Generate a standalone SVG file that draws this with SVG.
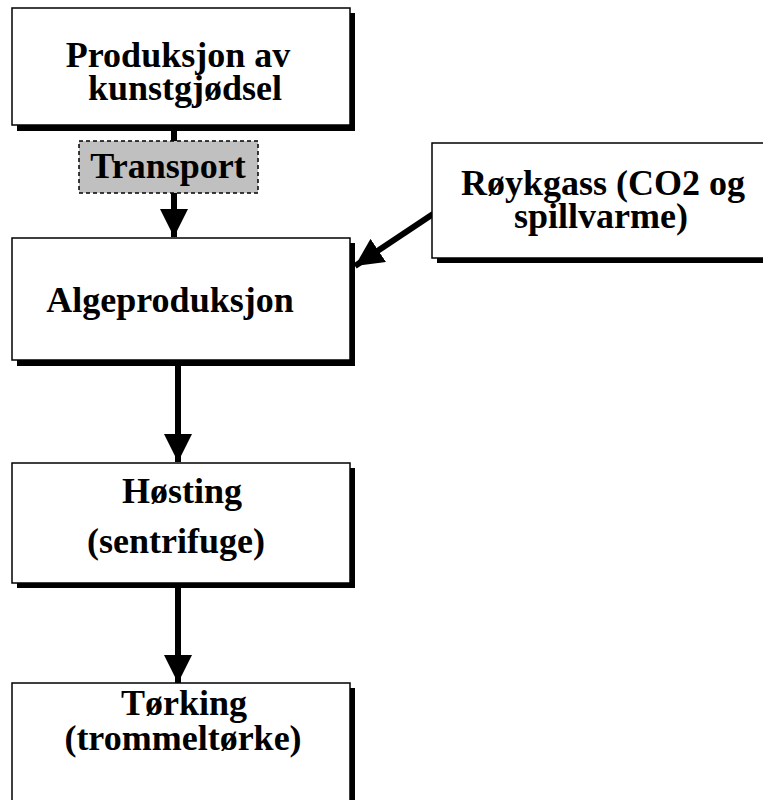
<svg xmlns="http://www.w3.org/2000/svg" width="763" height="800" viewBox="0 0 763 800">
<style>
  .box { fill: #ffffff; stroke: #000000; stroke-width: 1.5; }
  .shadow { fill: #000000; }
  .lbl { font-family: "Liberation Serif", "Times New Roman", serif; font-weight: bold; font-size: 36px; fill: #000000; text-anchor: middle; }
  .conn { stroke: #000000; stroke-width: 6; fill: none; }
  .dash { fill: #c0c0c0; stroke: #000000; stroke-width: 1.5; stroke-dasharray: 4 3; }
</style>
<defs>
  <marker id="ah" markerUnits="userSpaceOnUse" markerWidth="28" markerHeight="28" refX="28" refY="14" orient="auto" viewBox="0 0 28 28">
    <path d="M0,0 L28,14 L0,28 z" fill="#000000"/>
  </marker>
</defs>
<rect width="763" height="800" fill="#ffffff"/>

<g id="connectors">
  <line class="conn" x1="174" y1="128" x2="174" y2="142"/>
  <line class="conn" x1="174" y1="193" x2="174" y2="237" marker-end="url(#ah)"/>
  <line class="conn" x1="178" y1="364" x2="178" y2="462" marker-end="url(#ah)"/>
  <line class="conn" x1="178" y1="586" x2="178" y2="683" marker-end="url(#ah)"/>
  <line class="conn" x1="433" y1="214" x2="355" y2="266" marker-end="url(#ah)"/>
</g>

<g id="node-produksjon">
  <rect class="shadow" x="17" y="13" width="338" height="118"/>
  <rect class="box" x="12" y="8" width="338" height="117"/>
  <text class="lbl" x="178" y="67">Produksjon av</text>
  <text class="lbl" x="185" y="100">kunstgjødsel</text>
</g>

<g id="node-transport">
  <rect class="dash" x="79" y="141" width="179" height="52"/>
  <text class="lbl" x="168" y="178">Transport</text>
</g>

<g id="node-rokgass">
  <rect class="shadow" x="437" y="148" width="340" height="115"/>
  <rect class="box" x="432" y="143" width="340" height="115"/>
  <text class="lbl" x="603" y="195">Røykgass (CO2 og</text>
  <text class="lbl" x="601" y="228">spillvarme)</text>
</g>

<g id="node-alge">
  <rect class="shadow" x="17" y="243" width="338" height="123"/>
  <rect class="box" x="12" y="238" width="338" height="122"/>
  <text class="lbl" x="170" y="312">Algeproduksjon</text>
</g>

<g id="node-hosting">
  <rect class="shadow" x="17" y="468" width="338" height="120"/>
  <rect class="box" x="12" y="463" width="338" height="120"/>
  <text class="lbl" x="182" y="503">Høsting</text>
  <text class="lbl" x="176" y="553">(sentrifuge)</text>
</g>

<g id="node-torking">
  <rect class="shadow" x="17" y="688" width="338" height="140"/>
  <rect class="box" x="12" y="683" width="338" height="140"/>
  <text class="lbl" x="184" y="715">Tørking</text>
  <text class="lbl" x="183" y="750">(trommeltørke)</text>
</g>
</svg>
